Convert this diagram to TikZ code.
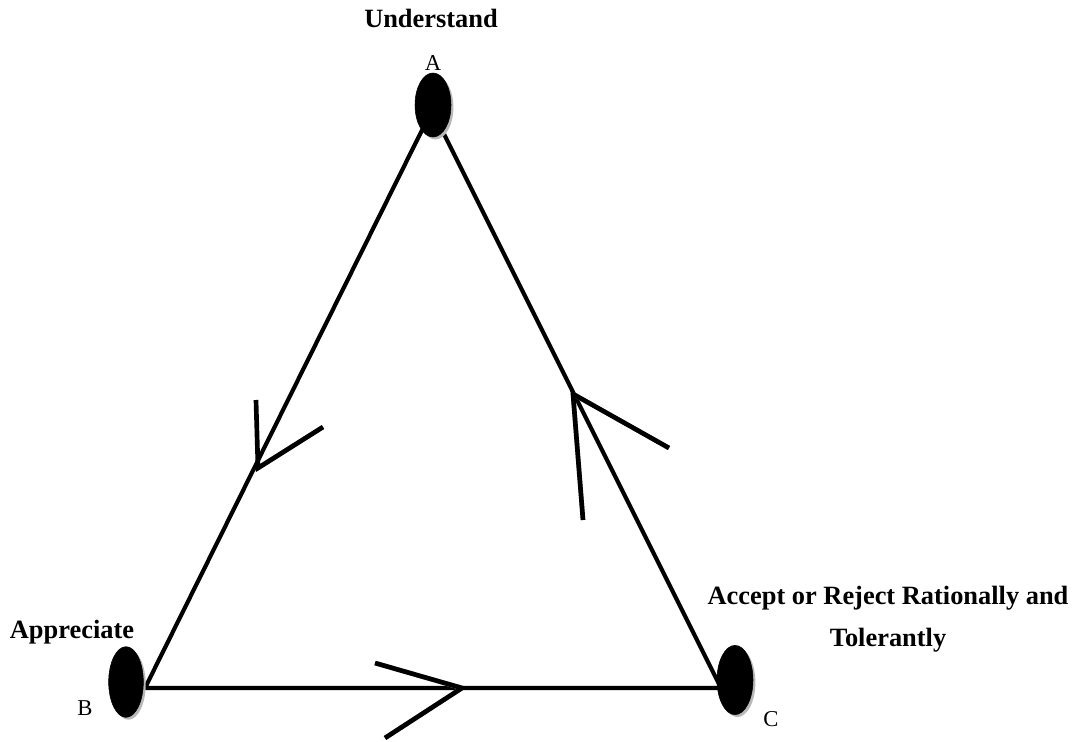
\documentclass[tikz,border=0pt]{standalone}
\usepackage{fontspec}
\setmainfont{Liberation Serif}
\usetikzlibrary{shapes.geometric, shadows}
\tikzstyle{vertex} = [ellipse, fill=black, draw=black, inner sep=0pt, drop shadow={shadow xshift=1.8pt, shadow yshift=-1.8pt, fill=gray!55, opacity=1}]
\tikzstyle{side} = [line width=3.1pt, line cap=round]
\tikzstyle{barb} = [line width=3.5pt]
\tikzstyle{barbshadow} = [line width=3.5pt, gray!60]
\tikzstyle{title} = [font=\bfseries\fontsize{19.8}{31.5}\selectfont, align=center, anchor=base, inner sep=0pt]
\tikzstyle{letter} = [font=\fontsize{17}{20}\selectfont, inner sep=0pt, anchor=base]

\begin{document}
\begin{tikzpicture}[x=0.75pt, y=-0.75pt]
	\useasboundingbox (0,0) rectangle (1075,742);
	% corners of the triangle
	\coordinate (Atop) at (432,110);
	\coordinate (Bcorner) at (145,688);
	\coordinate (Ccorner) at (721,688);
	\draw [side] (Atop) -- (Bcorner) -- (Ccorner) -- cycle;
	% chevrons
	\coordinate (LeftTip) at (258,468);
	\coordinate (LeftArmA) at (256,400);
	\coordinate (LeftArmB) at (323,427);
	\coordinate (RightTip) at (573,394);
	\coordinate (RightArmA) at (583,520);
	\coordinate (RightArmB) at (669,448);
	\coordinate (BottomTip) at (462,688);
	\coordinate (BottomArmA) at (375,663);
	\coordinate (BottomArmB) at (385,738);
	\begin{scope}[shift={(2,2)}]
		\draw [barbshadow] (LeftTip) -- (LeftArmB);
		\draw [barbshadow] (RightTip) -- (RightArmB);
		\draw [barbshadow] (RightTip) -- (RightArmA);
		\draw [barbshadow] (BottomTip) -- (BottomArmA);
		\draw [barbshadow] (BottomTip) -- (BottomArmB);
	\end{scope}
	\draw [barb] (LeftArmA) -- (LeftTip) -- (LeftArmB);
	\draw [barb] (RightArmA) -- (RightTip) -- (RightArmB);
	\draw [barb] (BottomArmA) -- (BottomTip) -- (BottomArmB);
	% vertices
	\node (A) [vertex, minimum width=27pt, minimum height=48pt] at (433,105) {};
	\node (B) [vertex, minimum width=26pt, minimum height=53pt] at (126,682) {};
	\node (C) [vertex, minimum width=27pt, minimum height=52pt] at (735,680) {};
	\node (LabelA) [letter] at (433,70) {A};
	\node (LabelB) [letter] at (85,715) {B};
	\node (LabelC) [letter] at (771,726) {C};
	\node (Understand) [title] at (431,28) {Understand};
	\node (Appreciate) [title] at (72,638) {Appreciate};
	\node (Accept) [title] at (888,646) {Accept or Reject Rationally and\\Tolerantly};
\end{tikzpicture}
\end{document}
